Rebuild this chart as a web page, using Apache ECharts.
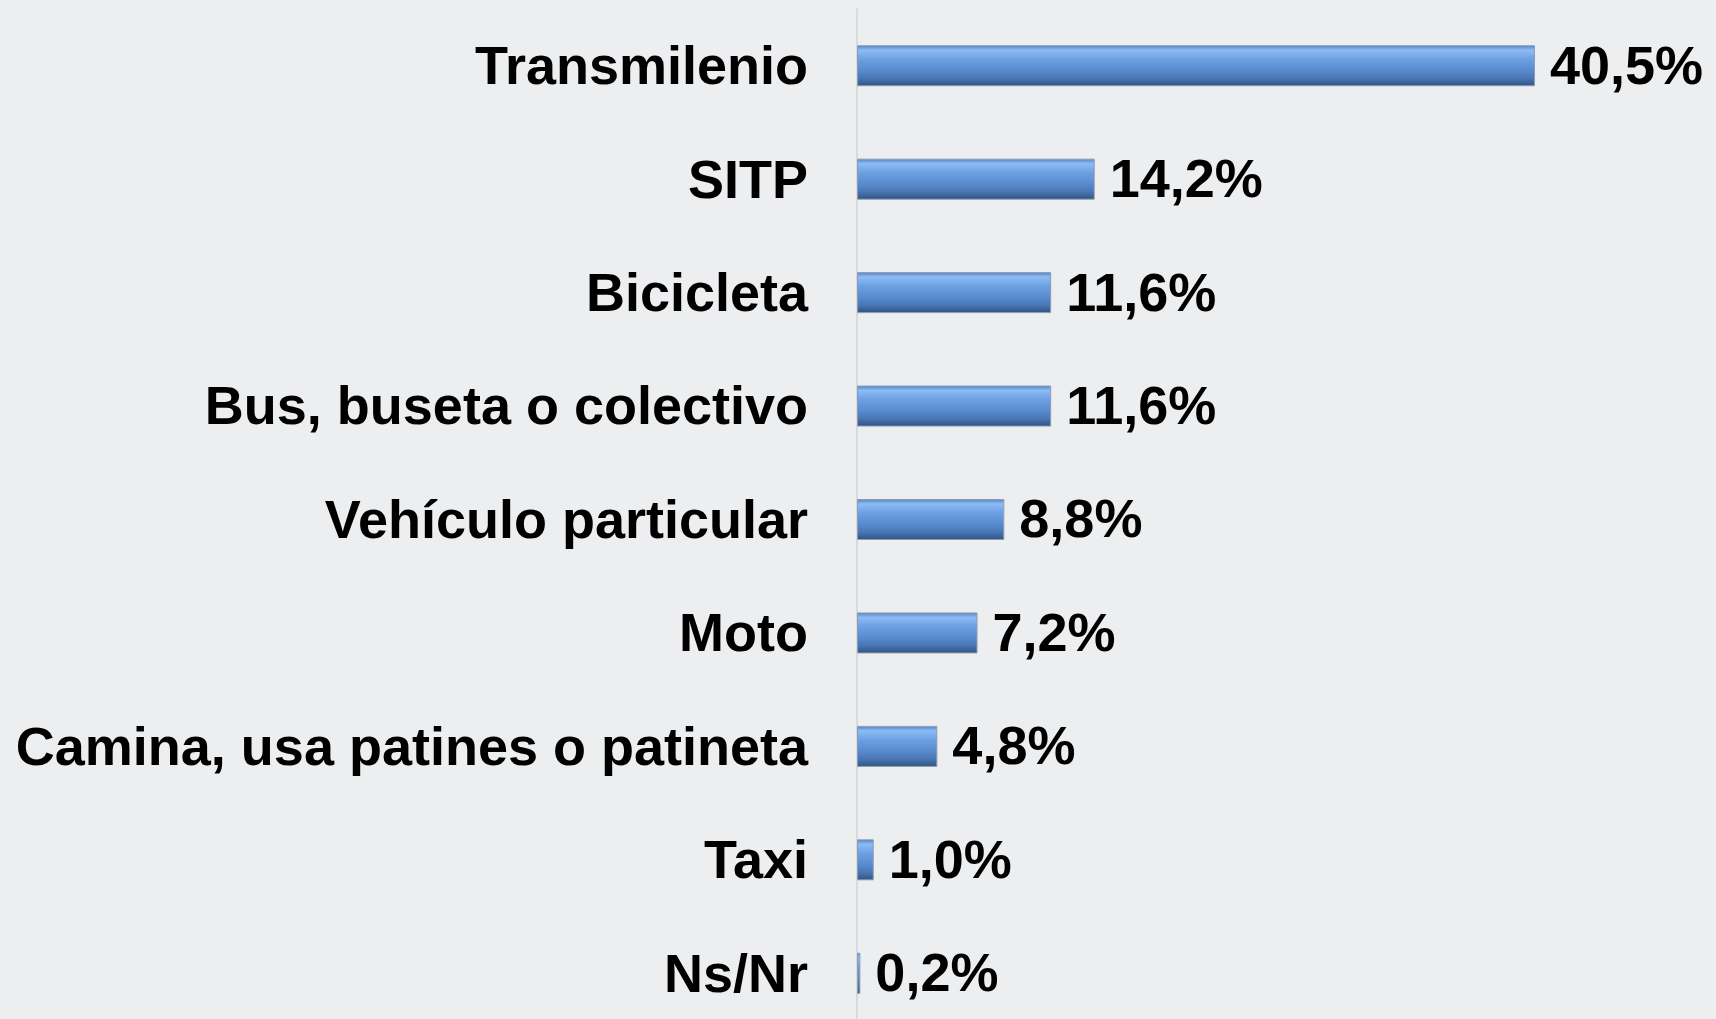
<!DOCTYPE html>
<html>
<head>
<meta charset="utf-8">
<script src="https://cdn.jsdelivr.net/npm/echarts@6/dist/echarts.min.js"></script>
<style>
  html, body { margin: 0; padding: 0; background: #edeef0; overflow: hidden; }
  #chart { width: 1716px; height: 1030px; }
</style>
</head>
<body>
<div id="chart"></div>
<script>
// categories top -> bottom
let categorias = ['Transmilenio', 'SITP', 'Bicicleta', 'Bus, buseta o colectivo',
    'Vehículo particular', 'Moto', 'Camina, usa patines o patineta', 'Taxi', 'Ns/Nr'];
let porcentajes = [40.5, 14.2, 11.6, 11.6, 8.8, 7.2, 4.8, 1.0, 0.2];

let fuente = 'Liberation Sans';

let barColor = new echarts.graphic.LinearGradient(0, 0, 0, 1, [
    {offset: 0, color: '#4f7fc2'},
    {offset: 0.12, color: '#8dbcf5'},
    {offset: 0.35, color: '#6b9fe2'},
    {offset: 0.6, color: '#5a8cd0'},
    {offset: 0.8, color: '#4a78b6'},
    {offset: 1, color: '#2f5280'}
]);

// the last band runs a little past the bottom of the window, so the
// chart div is taller than the viewport and the page is clipped
let myChart = echarts.init(document.getElementById('chart'));
let option = {
    backgroundColor: '#edeef0',
    animation: false,
    grid: {
        left: 857,
        top: 9,
        width: 837,
        bottom: 0
    },
    xAxis: {
        type: 'value',
        min: 0,
        max: 50,
        show: false
    },
    yAxis: {
        type: 'category',
        inverse: true,
        data: categorias,
        axisLine: {show: true, lineStyle: {color: '#d2d3d6', width: 1.5}},
        axisTick: {show: false},
        splitLine: {show: false},
        axisLabel: {
            margin: 49,
            formatter: function (v) {
                return '{t|' + v + '}';
            },
            rich: {
                t: {
                    color: '#000',
                    fontFamily: fuente,
                    fontWeight: 'bold',
                    fontSize: 54,
                    padding: [7, 0, 0, 0]
                }
            }
        }
    },
    series: [
        {
            type: 'bar',
            data: porcentajes,
            barWidth: 41,
            itemStyle: {
                color: barColor,
                borderColor: '#8d9db2',
                borderWidth: 1
            },
            label: {
                show: true,
                position: 'right',
                distance: 15,
                offset: [0, 3],
                color: '#000',
                fontFamily: fuente,
                fontWeight: 'bold',
                fontSize: 54,
                formatter: function (p) {
                    return p.value.toFixed(1).replace('.', ',') + '%';
                }
            }
        }
    ]
};
myChart.setOption(option);
</script>
</body>
</html>
